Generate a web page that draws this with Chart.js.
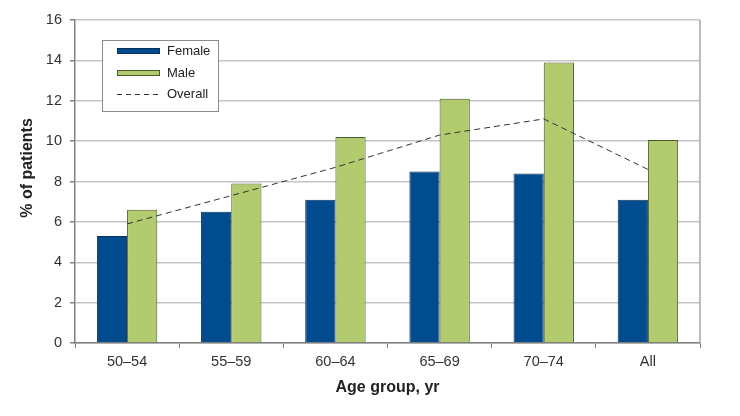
<!DOCTYPE html>
<html>
<head>
<meta charset="utf-8">
<script src="https://cdn.jsdelivr.net/npm/chart.js@4.4.1/dist/chart.umd.min.js"></script>
<style>
html,body{margin:0;padding:0;background:#fff;}
#wrap{width:740px;height:416px;}
</style>
</head>
<body>
<div id="wrap"><canvas id="c" width="740" height="416"></canvas></div>
<script>
const categories = ['50\u201354','55\u201359','60\u201364','65\u201369','70\u201374','All'];
const female = [5.3, 6.5, 7.1, 8.5, 8.4, 7.1];
const male = [6.6, 7.9, 10.2, 12.1, 13.9, 10.05];
const overall = [5.9, 7.3, 8.7, 10.3, 11.1, 8.6];
const yTicks = [0, 2, 4, 6, 8, 10, 12, 14, 16];
const yTitle = '% of patients';
const xTitle = 'Age group, yr';

const FONT = '"Liberation Sans", Arial, Helvetica, sans-serif';

const legendPlugin = {
  id: 'boxLegend',
  afterDatasetsDraw(chart) {
    const ctx = chart.ctx;
    const x0 = 102, y0 = 40, w = 116, h = 71;
    ctx.save();
    ctx.fillStyle = '#fff';
    ctx.fillRect(x0, y0, w, h);
    ctx.strokeStyle = '#8c8c8c';
    ctx.lineWidth = 1;
    ctx.strokeRect(x0 + 0.5, y0 + 0.5, w, h);
    const rows = [51, 73, 94];
    const ds = [chart.data.datasets[1], chart.data.datasets[2], chart.data.datasets[0]];
    ctx.font = '13px ' + FONT;
    ctx.textBaseline = 'middle';
    ds.forEach((d, i) => {
      const y = rows[i];
      if (d.type === 'line') {
        ctx.strokeStyle = d.borderColor;
        ctx.lineWidth = 1;
        ctx.setLineDash([5, 4]);
        ctx.beginPath();
        ctx.moveTo(117, y + 0.5);
        ctx.lineTo(160, y + 0.5);
        ctx.stroke();
        ctx.setLineDash([]);
      } else {
        ctx.fillStyle = d.backgroundColor;
        ctx.fillRect(117, y - 3, 43, 6);
        ctx.strokeStyle = d.borderColor;
        ctx.lineWidth = 1;
        ctx.strokeRect(117.5, y - 2.5, 42, 5);
      }
      ctx.fillStyle = '#222';
      ctx.fillText(d.label, 167, y);
    });
    ctx.restore();
  },
  afterDraw(chart) {
    const a = chart.chartArea;
    const ctx = chart.ctx;
    ctx.save();
    ctx.strokeStyle = '#a6a6a6';
    ctx.lineWidth = 1.5;
    ctx.beginPath();
    ctx.moveTo(a.right, a.top);
    ctx.lineTo(a.right, a.bottom);
    ctx.stroke();
    // y-axis title
    ctx.translate(28, 168);
    ctx.rotate(-Math.PI / 2);
    ctx.font = 'bold 16px ' + FONT;
    ctx.fillStyle = '#222';
    ctx.textAlign = 'center';
    ctx.textBaseline = 'middle';
    ctx.fillText(yTitle, 0, 0);
    ctx.restore();
  }
};

new Chart(document.getElementById('c'), {
  data: {
    labels: categories,
    datasets: [
      {
        type: 'line',
        label: 'Overall',
        data: overall,
        borderColor: '#333333',
        borderWidth: 1,
        borderDash: [6, 4],
        pointRadius: 0,
        tension: 0,
        fill: false,
        order: 0
      },
      {
        type: 'bar',
        label: 'Female',
        data: female,
        backgroundColor: '#004c8f',
        borderColor: '#0c2f55',
        borderWidth: 1,
        order: 1
      },
      {
        type: 'bar',
        label: 'Male',
        data: male,
        backgroundColor: '#b1cb6e',
        borderColor: '#4b5a2a',
        borderWidth: 1,
        order: 2
      }
    ]
  },
  options: {
    responsive: false,
    animation: false,
    devicePixelRatio: 1,
    layout: { padding: { left: 0, top: 20, right: 40, bottom: 0 } },
    datasets: {
      bar: { categoryPercentage: 0.58, barPercentage: 1.0 }
    },
    plugins: {
      legend: { display: false },
      tooltip: { enabled: false }
    },
    scales: {
      x: {
        offset: true,
        grid: {
          offset: true,
          drawOnChartArea: false,
          drawTicks: true,
          tickLength: 5,
          tickColor: '#808080',
          color: '#808080'
        },
        border: { color: '#808080', width: 1.5 },
        ticks: { color: '#333', font: { family: FONT, size: 14.5 }, padding: 5 },
        title: {
          display: true,
          text: xTitle,
          color: '#222',
          font: { family: FONT, size: 16, weight: 'bold' },
          padding: { top: 4, bottom: 19 }
        },
        afterFit(scale) { scale.height = 73; }
      },
      y: {
        min: 0,
        max: 16,
        afterBuildTicks(scale) { scale.ticks = yTicks.map(v => ({ value: v })); },
        grid: {
          color: '#c4c4c4',
          lineWidth: 1.5,
          tickLength: 5,
          tickColor: '#808080'
        },
        border: { color: '#808080', width: 1.5 },
        ticks: { color: '#333', font: { family: FONT, size: 14.5 }, padding: 8 },
        afterFit(scale) { scale.width = 75; }
      }
    }
  },
  plugins: [legendPlugin]
});
</script>
</body>
</html>
